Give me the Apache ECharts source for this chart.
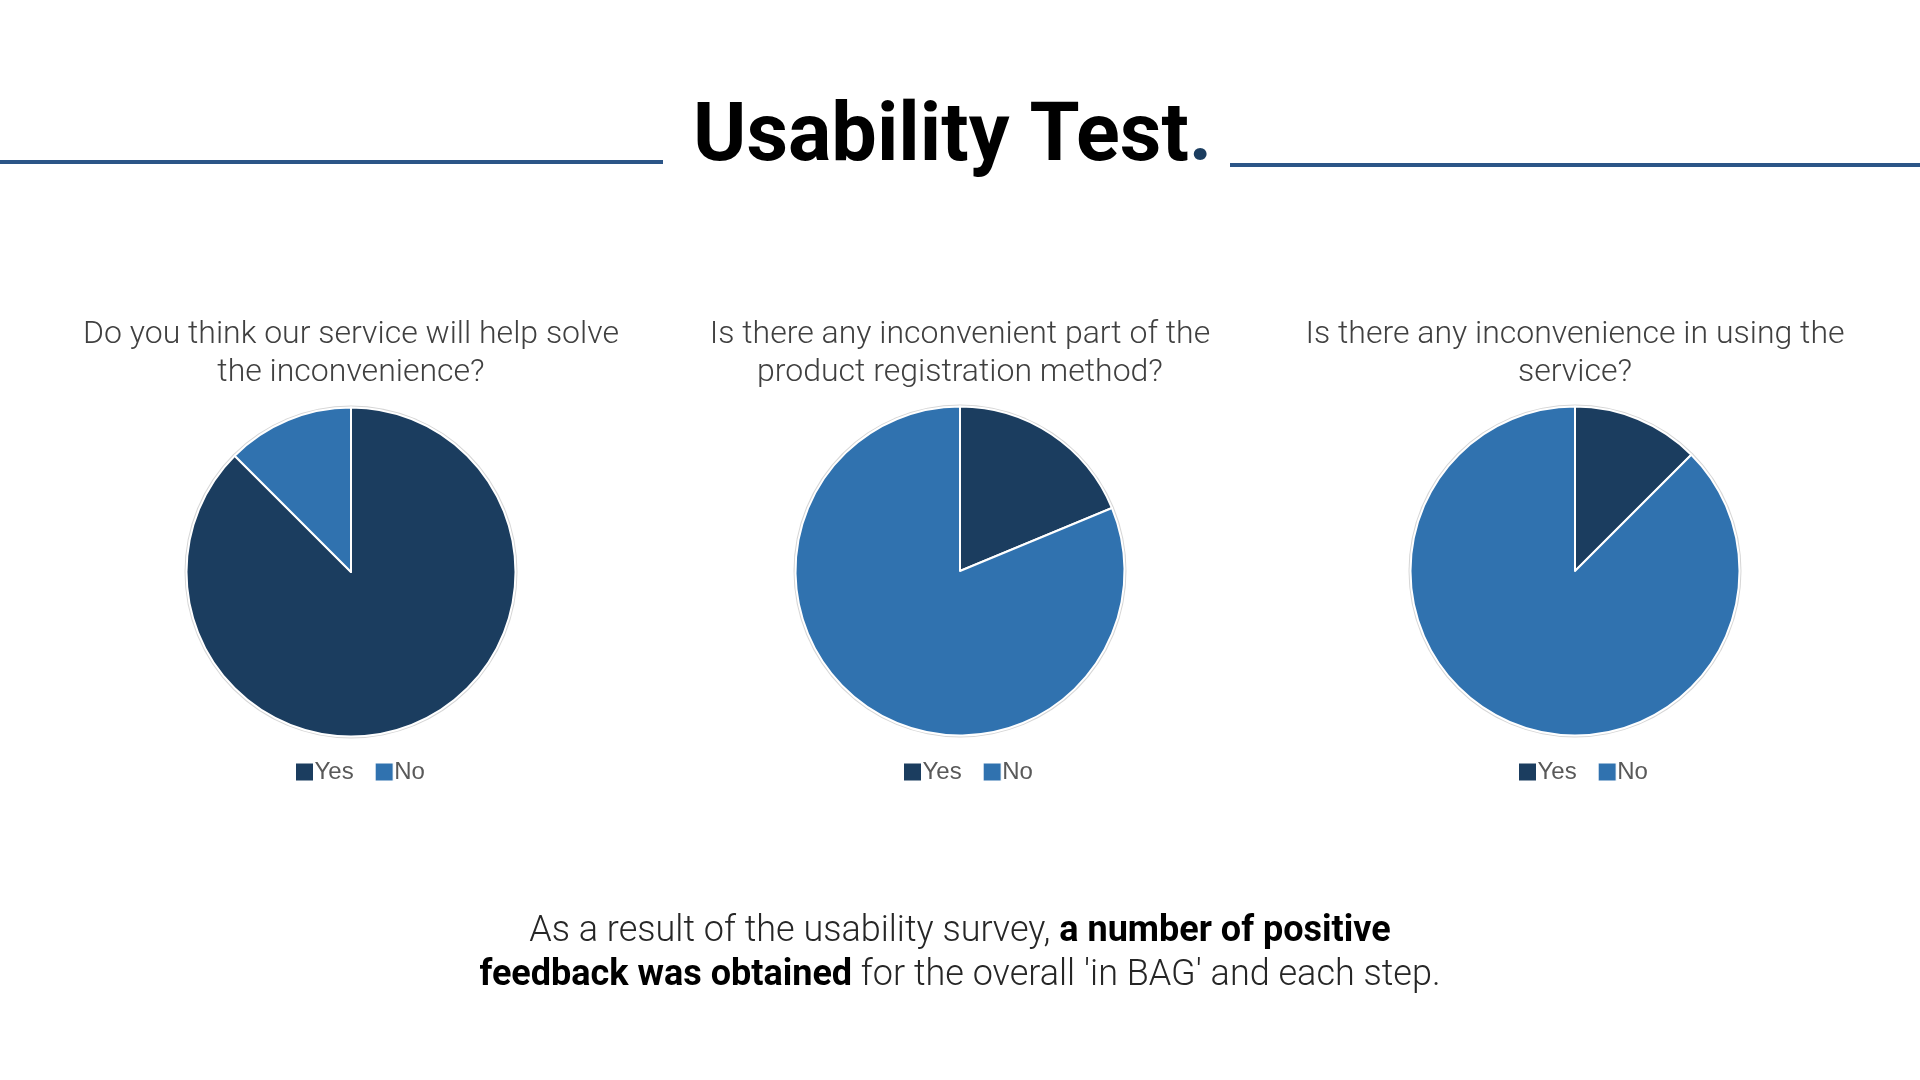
<!DOCTYPE html>
<html>
<head>
<meta charset="utf-8">
<script src="https://cdn.jsdelivr.net/npm/echarts@6/dist/echarts.min.js"></script>
<style>
html,body{margin:0;padding:0;background:#fff;}
#chart{width:1920px;height:1080px;}
</style>
</head>
<body>
<div id="chart"></div>
<script>
// ---- data ----
const categories = ['Yes', 'No'];
const questions = [
  'Do you think our service will help solve\nthe inconvenience?',
  'Is there any inconvenient part of the\nproduct registration method?',
  'Is there any inconvenience in using the\nservice?'
];
const survey1 = [14, 2];   // Yes, No
const survey2 = [3, 13];
const survey3 = [2, 14];
const titleText = 'Usability Test';
const footerLight1 = 'As a result of the usability survey, ';
const footerBold1 = 'a number of positive';
const footerBold2 = 'feedback was obtained';
const footerLight2 = " for the overall 'in BAG' and each step.";

// ---- layout / style ----
const surveys = [survey1, survey2, survey3];
const colors = ['#1b3d5f', '#3072af'];
const centers = [[351, 572], [960, 571], [1575, 571]];
const legendLefts = [295, 903, 1518];
const R = 164.5;

const chart = echarts.init(document.getElementById('chart'), null, {renderer: 'canvas'});

const series = [];
const legends = [];
surveys.forEach((vals, i) => {
  series.push({
    type: 'pie', silent: true, radius: [0, R + 2], center: centers[i],
    label: {show: false}, labelLine: {show: false}, z: 1,
    itemStyle: {color: '#d6d6d6'},
    data: [{name: '_bg' + i, value: 1}]
  });
  series.push({
    type: 'pie', name: 'q' + (i + 1), radius: [0, R], center: centers[i],
    startAngle: 90, clockwise: true, z: 2,
    label: {show: false}, labelLine: {show: false},
    emphasis: {scale: false},
    itemStyle: {borderColor: '#ffffff', borderWidth: 2},
    data: categories.map((c, k) => ({name: c, value: vals[k], itemStyle: {color: colors[k]}}))
  });
  legends.push({
    data: categories, left: legendLefts[i], top: 760, padding: 0,
    itemWidth: 18, itemHeight: 18, itemGap: 21, icon: 'rect',
    itemStyle: {borderColor: '#ffffff', borderWidth: 1},
    textStyle: {fontFamily: 'Liberation Sans', fontSize: 24, color: '#595959', padding: [0, 0, 0, -4]}
  });
});

const graphics = [
  {type: 'line', shape: {x1: 0, y1: 162, x2: 663, y2: 162}, style: {stroke: '#2b5587', lineWidth: 4}},
  {type: 'line', shape: {x1: 1230, y1: 165, x2: 1920, y2: 165}, style: {stroke: '#2b5587', lineWidth: 4}},
  {type: 'text', x: 693, y: 140, style: {
    text: '{t|' + titleText + '}{d|.}',
    align: 'left', verticalAlign: 'middle',
    rich: {
      t: {fontFamily: 'Roboto', fontWeight: 'bold', fontSize: 81, fill: '#000'},
      d: {fontFamily: 'Roboto', fontWeight: 'bold', fontSize: 81, fill: '#1b3d5f'}
    }
  }},
  {type: 'text', x: 960, y: 954, style: {
    text: '{l|' + footerLight1 + '}{b|' + footerBold1 + '}\n{b|' + footerBold2 + '}{l|' + footerLight2 + '}',
    align: 'center', verticalAlign: 'middle',
    rich: {
      l: {fontFamily: 'Roboto', fontWeight: 300, fontSize: 36, fill: '#262626', lineHeight: 44},
      b: {fontFamily: 'Roboto', fontWeight: 'bold', fontSize: 36, fill: '#000', lineHeight: 44}
    }
  }}
];
questions.forEach((q, i) => {
  graphics.push({type: 'text', x: centers[i][0], y: 354, style: {
    text: q, align: 'center', verticalAlign: 'middle',
    fontFamily: 'Roboto', fontWeight: 300, fontSize: 32, lineHeight: 38, fill: '#404040'
  }});
});

chart.setOption({
  backgroundColor: '#ffffff',
  animation: false,
  legend: legends,
  series: series,
  graphic: {elements: graphics}
});
</script>
</body>
</html>
